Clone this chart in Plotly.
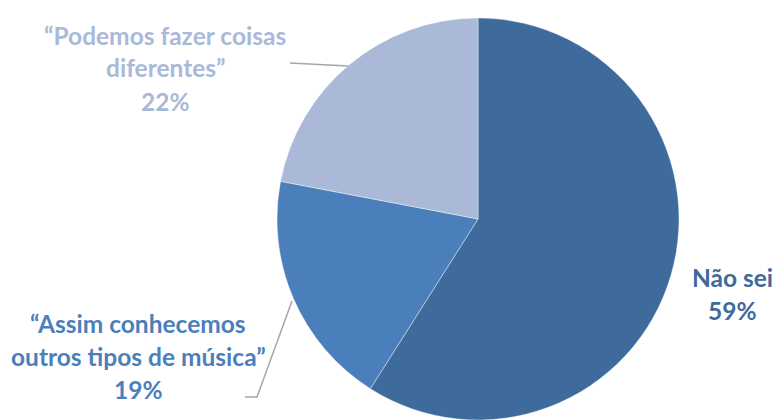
import plotly.graph_objects as go

# answers and shares (%)
labels = ['Não sei', '“Assim conhecemos outros tipos de música”', '“Podemos fazer coisas diferentes”']
values = [59, 19, 22]
colors = ['#3F6A9C', '#4B7FBB', '#A9B9D7']

# how each label is broken into lines on the chart
label_lines = [
    ['Não sei'],
    ['“Assim conhecemos', 'outros tipos de música”'],
    ['“Podemos fazer coisas', 'diferentes”'],
]

W, H = 777, 420


def px(x, y):
    '''window pixel position -> paper coordinates'''
    return x / W, 1 - y / H


fig = go.Figure()

# pie centre and radius in window pixels
cx0, cy0, r = 478, 219, 201
fig.add_trace(go.Pie(
    labels=labels,
    values=values,
    sort=False,
    direction='clockwise',
    rotation=0,
    marker=dict(colors=colors, line=dict(color='rgba(255,255,255,0.5)', width=0.8)),
    textinfo='none',
    hoverinfo='label+percent',
    showlegend=False,
    domain=dict(x=[px(cx0 - r, 0)[0], px(cx0 + r, 0)[0]],
                y=[max(0, px(0, cy0 + r)[1]), px(0, cy0 - r)[1]]),
))

# label anchor (centre x, first line y) and line spacing in pixels
anchors = [(732, 277), (138, 323), (165, 35)]
step = 33

for lines, val, col, (cx, cy) in zip(label_lines, values, colors, anchors):
    for i, t in enumerate(lines + [f'{val}%']):
        x, y = px(cx, cy + i * step)
        fig.add_annotation(
            x=x, y=y, xref='paper', yref='paper', text=t, showarrow=False,
            xanchor='center', yanchor='middle',
            font=dict(family='Lato', size=24.5, color=col, weight='bold'),
        )

# leader lines
leaders = [
    [(290, 63), (348, 66)],
    [(245, 397), (257, 397), (292, 301)],
]
for pts in leaders:
    path = 'M ' + ' L '.join(f'{px(a, b)[0]} {px(a, b)[1]}' for a, b in pts)
    fig.add_shape(type='path', path=path, xref='paper', yref='paper',
                  line=dict(color='#A6A6A6', width=1.5))

fig.update_layout(
    width=W, height=H,
    margin=dict(l=0, r=0, t=0, b=0),
    paper_bgcolor='white',
    plot_bgcolor='white',
)

# drop the default page margin so the figure sits at the window's corner
fig.write_html('out.html', config={'displayModeBar': False},
               post_script="document.body.style.margin='0';")
